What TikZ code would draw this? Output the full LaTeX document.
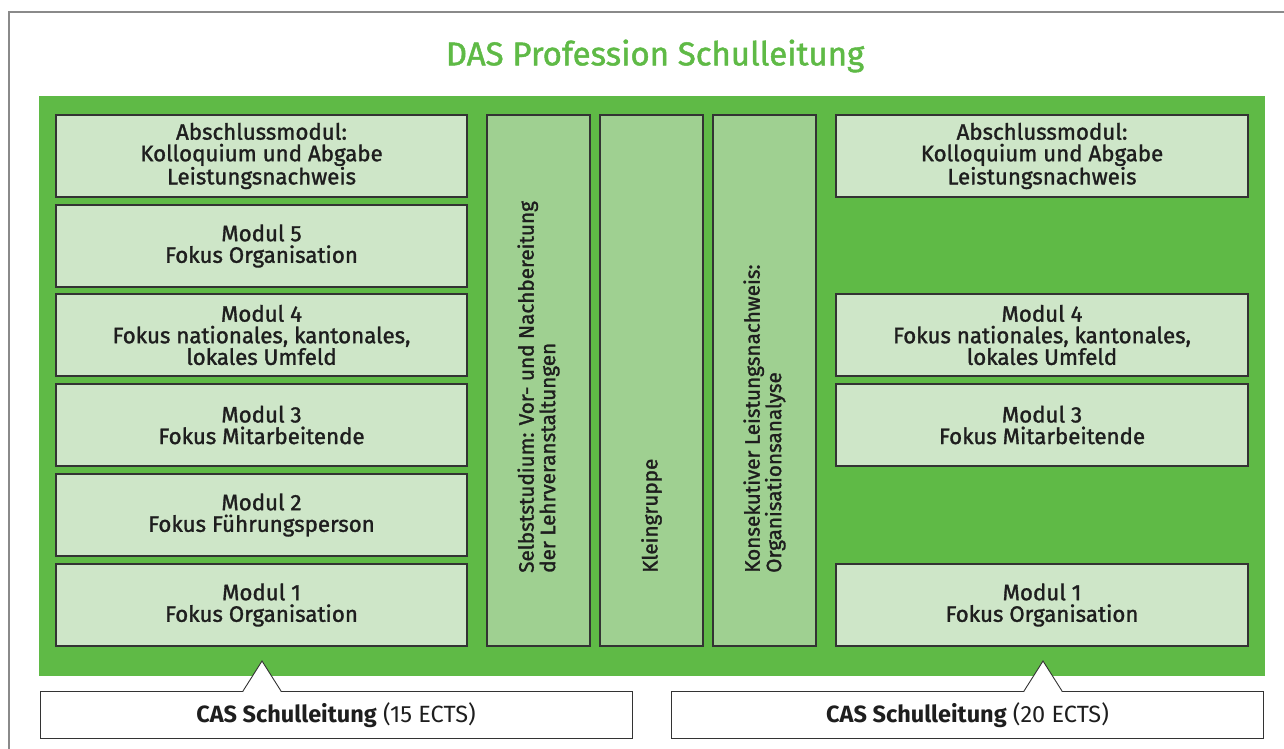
\documentclass[tikz,border=0pt]{standalone}
\usepackage{fontspec}
\setmainfont{Fira Sans}
\newfontfamily\medfont{Fira Sans}[FakeBold=1.4]
\definecolor{dasgreen}{HTML}{5FBA46}
\definecolor{boxlight}{HTML}{CEE6C8}
\definecolor{colfill}{HTML}{9FD091}
\definecolor{edge}{HTML}{333333}
\definecolor{txt}{HTML}{1E1E1E}
\definecolor{frame}{HTML}{8A8A8A}
\begin{document}
\begin{tikzpicture}[x=1pt,y=-1pt,
  modbox/.style={draw=edge,line width=1.4pt,fill=boxlight,minimum width=411pt,minimum height=82pt,
    inner sep=0pt,align=center,font=\medfont\fontsize{22.3}{21.6}\selectfont,text=txt},
  colbox/.style={draw=edge,line width=1.4pt,fill=colfill,minimum width=103pt,minimum height=531pt,inner sep=0pt},
  coltext/.style={rotate=90,anchor=west,align=left,font=\medfont\fontsize{20.7}{21.5}\selectfont,text=txt,inner sep=0pt},
  casbox/.style={draw=edge,line width=0.9pt,fill=white,minimum width=592pt,minimum height=47pt,inner sep=0pt,
    font=\fontsize{23.5}{25}\selectfont,text=txt},
  pointer/.style={draw=edge,line width=0.9pt}
]
\useasboundingbox (0,0) rectangle (1284,749);
% outer frame
\draw[frame,line width=1.4pt] (1284,12) -- (9,12) -- (9,749);
% title
\node[text=dasgreen,font=\medfont\fontsize{33}{36}\selectfont] (title) at (655,56) {DAS Profession Schulleitung};
% green panel
\fill[dasgreen] (39,96) rectangle (1265,676);
% left modules
\node[modbox] (la) at (261.5,156) {Abschlussmodul:\\Kolloquium und Abgabe\\Leistungsnachweis};
\node[modbox] (l5) at (261.5,246) {Modul 5\\Fokus Organisation};
\node[modbox] (l4) at (261.5,335) {Modul 4\\Fokus nationales, kantonales,\\lokales Umfeld};
\node[modbox] (l3) at (261.5,425) {Modul 3\\Fokus Mitarbeitende};
\node[modbox] (l2) at (261.5,515) {Modul 2\\Fokus Führungsperson};
\node[modbox] (l1) at (261.5,605) {Modul 1\\Fokus Organisation};
% columns
\node[colbox] (c1) at (538.5,380.5) {};
\node[colbox] (c2) at (651.5,380.5) {};
\node[colbox] (c3) at (764.5,380.5) {};
\node[coltext] (t1) at (538.5,573) {Selbststudium: Vor- und Nachbereitung\\der Lehrveranstaltungen};
\node[coltext] (t2) at (651.5,573) {Kleingruppe};
\node[coltext] (t3) at (764.5,573) {Konsekutiver Leistungsnachweis:\\Organisationsanalyse};
% right modules
\node[modbox,minimum width=412pt] (ra) at (1042,156) {Abschlussmodul:\\Kolloquium und Abgabe\\Leistungsnachweis};
\node[modbox,minimum width=412pt] (r4) at (1042,335) {Modul 4\\Fokus nationales, kantonales,\\lokales Umfeld};
\node[modbox,minimum width=412pt] (r3) at (1042,425) {Modul 3\\Fokus Mitarbeitende};
\node[modbox,minimum width=412pt] (r1) at (1042,605) {Modul 1\\Fokus Organisation};
% CAS boxes
\node[casbox] (cas1) at (336,715) {\textbf{CAS Schulleitung} (15 ECTS)};
\node[casbox] (cas2) at (967.5,715) {\textbf{CAS Schulleitung} (20 ECTS)};
\coordinate (p1) at (262,661);
\coordinate (p2) at (1043,661);
\fill[white] (243,691.5) -- (p1) -- (281,691.5) -- cycle;
\fill[white] (1024,691.5) -- (p2) -- (1062,691.5) -- cycle;
\draw[pointer] (243,691) -- (p1) -- (281,691);
\draw[pointer] (1024,691) -- (p2) -- (1062,691);
\fill[white] (243.6,690.6) rectangle (280.4,691.8);
\fill[white] (1024.6,690.6) rectangle (1061.4,691.8);
\end{tikzpicture}
\end{document}
